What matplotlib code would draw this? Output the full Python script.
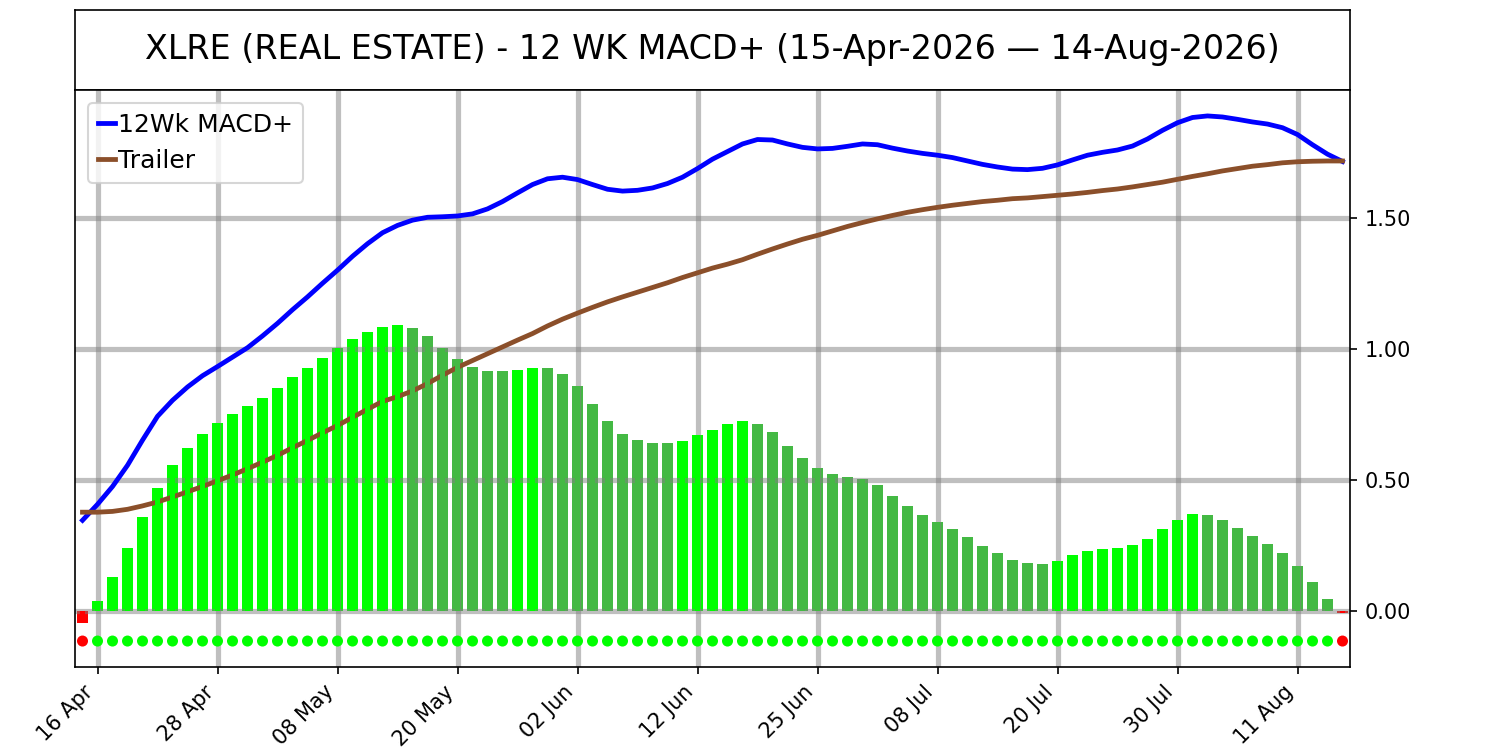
"""XLRE 12 WK MACD+ chart"""

import matplotlib
matplotlib.use('Agg')
import matplotlib.pyplot as plt
import pandas as pd

# Trading days 15-Apr-2026 .. 14-Aug-2026
holidays = ['2026-05-25', '2026-06-19', '2026-07-03']
dates = pd.bdate_range('2026-04-15', '2026-08-14', freq='C', holidays=holidays)

# Histogram (MACD+ momentum)
hist = [
    -0.046, 0.037, 0.128, 0.239, 0.358, 0.469, 0.557, 0.621, 0.674, 0.717,
    0.751, 0.782, 0.813, 0.850, 0.893, 0.928, 0.965, 1.003, 1.037, 1.065,
    1.084, 1.092, 1.080, 1.049, 1.004, 0.961, 0.930, 0.916, 0.915, 0.920,
    0.928, 0.927, 0.904, 0.858, 0.789, 0.725, 0.674, 0.652, 0.641, 0.640,
    0.649, 0.671, 0.690, 0.713, 0.724, 0.713, 0.682, 0.629, 0.583, 0.545,
    0.522, 0.510, 0.503, 0.479, 0.438, 0.399, 0.366, 0.339, 0.311, 0.282,
    0.247, 0.220, 0.196, 0.182, 0.178, 0.190, 0.212, 0.227, 0.235, 0.239,
    0.251, 0.274, 0.311, 0.346, 0.370, 0.366, 0.346, 0.315, 0.286, 0.255,
    0.220, 0.171, 0.109, 0.044, -0.009,
]

# 12Wk MACD+ line
macd = [
    0.346, 0.407, 0.475, 0.556, 0.652, 0.743, 0.804, 0.855, 0.898, 0.933,
    0.969, 1.005, 1.050, 1.098, 1.150, 1.199, 1.251, 1.301, 1.354, 1.402,
    1.444, 1.472, 1.492, 1.503, 1.505, 1.508, 1.516, 1.535, 1.563, 1.596,
    1.628, 1.650, 1.656, 1.647, 1.628, 1.610, 1.603, 1.606, 1.615, 1.632,
    1.656, 1.689, 1.725, 1.754, 1.783, 1.800, 1.798, 1.783, 1.770, 1.764,
    1.766, 1.774, 1.783, 1.780, 1.767, 1.756, 1.747, 1.740, 1.731, 1.718,
    1.705, 1.695, 1.687, 1.685, 1.690, 1.703, 1.722, 1.740, 1.751, 1.760,
    1.775, 1.802, 1.835, 1.864, 1.884, 1.890, 1.886, 1.877, 1.867, 1.859,
    1.845, 1.819, 1.780, 1.744, 1.716,
]

# Trailer line
trailer = [
    0.377, 0.377, 0.380, 0.388, 0.401, 0.416, 0.435, 0.455, 0.475, 0.497,
    0.519, 0.543, 0.568, 0.594, 0.623, 0.651, 0.680, 0.708, 0.739, 0.770,
    0.800, 0.818, 0.840, 0.868, 0.900, 0.930, 0.956, 0.982, 1.008, 1.034,
    1.059, 1.088, 1.114, 1.137, 1.159, 1.180, 1.199, 1.217, 1.235, 1.253,
    1.273, 1.291, 1.309, 1.324, 1.341, 1.362, 1.382, 1.401, 1.419, 1.434,
    1.451, 1.468, 1.483, 1.497, 1.510, 1.522, 1.532, 1.541, 1.549, 1.556,
    1.563, 1.568, 1.574, 1.577, 1.582, 1.587, 1.592, 1.598, 1.605, 1.611,
    1.619, 1.628, 1.637, 1.648, 1.659, 1.669, 1.680, 1.689, 1.698, 1.704,
    1.711, 1.715, 1.717, 1.718, 1.718,
]

# Signal dots (1 = green, 0 = red)
signal = [0] + [1] * 83 + [0]
signal_level = -0.115

x = list(range(len(hist)))

# Bar colours: red below zero, bright green when rising, darker green when falling
bar_colors = []
for i, v in enumerate(hist):
    if v < 0:
        bar_colors.append('#ff0000')
    elif i > 0 and v > hist[i - 1]:
        bar_colors.append('#00ff00')
    else:
        bar_colors.append('#44b944')

fig = plt.figure(figsize=(10, 5), dpi=150)

# Title box
ax_t = fig.add_axes([0.05, 0.88, 0.85, 0.1067])
ax_t.set_xticks([])
ax_t.set_yticks([])
ax_t.text(0.5, 0.5, 'XLRE (REAL ESTATE) - 12 WK MACD+ (15-Apr-2026 \u2014 14-Aug-2026)',
          ha='center', va='center', fontsize=16, transform=ax_t.transAxes)

# Main chart
ax = fig.add_axes([0.05, 0.1107, 0.85, 0.7693])
ax.set_axisbelow('line')
ax.bar(x, hist, width=0.7, color=bar_colors, zorder=1)
ax.grid(True, color='gray', alpha=0.5, linewidth=2.5)
ax.plot(x, macd, color='blue', linewidth=2.3, label='12Wk MACD+', zorder=3)
ax.plot(x, trailer, color='#8b4f2a', linewidth=2.3, label='Trailer', zorder=3)
ax.bar(x, hist, width=0.3, color=bar_colors, zorder=4)
dot_colors = ['#00ff00' if s else '#ff0000' for s in signal]
ax.scatter(x, [signal_level] * len(x), s=28, color=dot_colors, zorder=5, linewidths=0)

ax.set_xlim(-0.5, len(x) - 0.5)
ax.set_ylim(-0.214, 1.989)
ax.yaxis.tick_right()
ax.set_yticks([0, 0.5, 1.0, 1.5])
ax.set_yticklabels([f'{v:.2f}' for v in [0, 0.5, 1.0, 1.5]])

tick_idx = list(range(1, len(x), 8))
ax.set_xticks(tick_idx)
ax.set_xticklabels([dates[i].strftime('%d %b') for i in tick_idx], rotation=45, ha='right')

ax.legend(loc='upper left', fontsize=12, handlelength=0.7, handletextpad=0.1)

fig.savefig('out.png', dpi=150)
